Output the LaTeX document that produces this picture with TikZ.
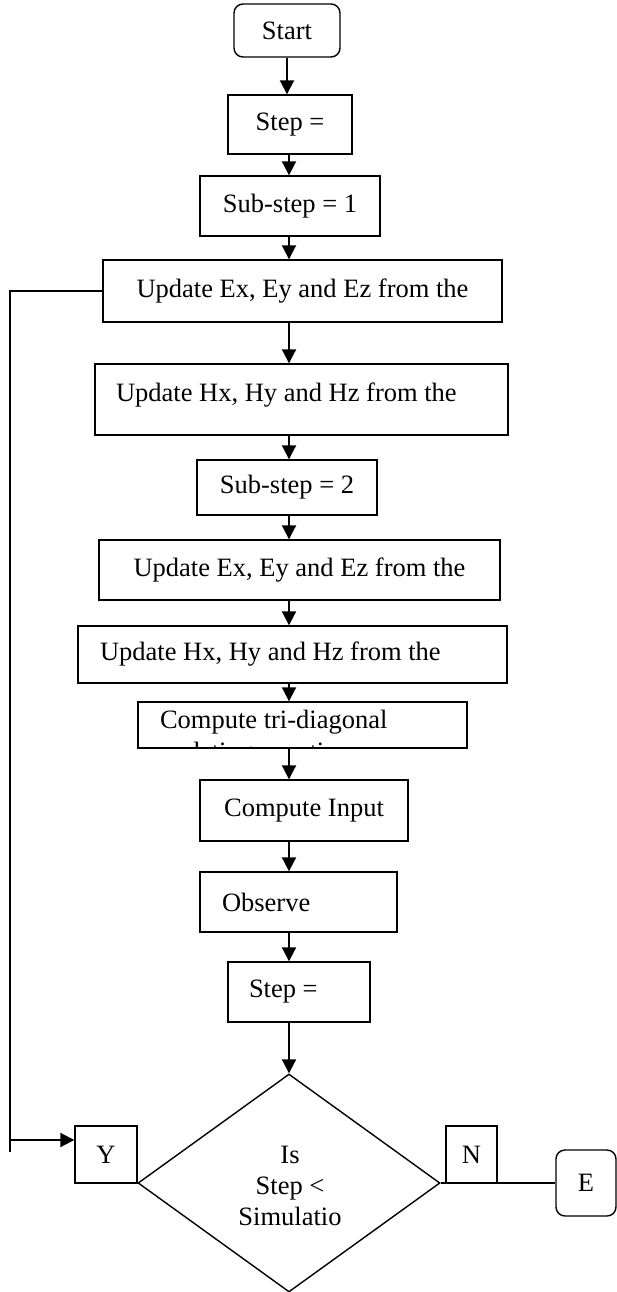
\documentclass[tikz,border=0pt]{standalone}
\usepackage{fontspec}
\setmainfont{Liberation Serif}
\usetikzlibrary{arrows.meta,shapes.geometric}

\tikzset{
  box/.style={draw, line width=1.4pt, inner sep=0pt, font=\fontsize{26.5}{31}\selectfont},
  rbox/.style={box, rounded corners=9pt},
  txt/.style={inner sep=0pt, font=\fontsize{26.5}{31}\selectfont},
  flow/.style={line width=2pt, -{Triangle[length=14pt,width=14pt]}},
  link/.style={line width=1.4pt},
}

\begin{document}
\begin{tikzpicture}[x=1pt,y=-1pt]
			\useasboundingbox (0,0) rectangle (617,1292);
			\coordinate (axis) at (289,0);

			%%%%% BOXES %%%%%
			\node[rbox, minimum width=106pt, minimum height=53pt] (start) at (287,30.5) {Start};
			\node[box, minimum width=124pt, minimum height=59pt] (step1) at (290,124.5) {Step =};
			\node[box, minimum width=180pt, minimum height=60pt] (sub1) at (290,206) {Sub-step = 1};
			\node[box, minimum width=399pt, minimum height=62pt] (updE1) at (302.5,291) {Update Ex, Ey and Ez from the};
			\node[box, minimum width=413pt, minimum height=71pt, text width=371pt, inner xsep=21pt, align=flush left,
			      text height=18.5pt, text depth=14.1pt] (updH1) at (301.5,399.5) {Update Hx, Hy and Hz from the};
			\node[box, minimum width=180pt, minimum height=55pt] (sub2) at (287,487.5) {Sub-step = 2};
			\node[box, minimum width=401pt, minimum height=60pt] (updE2) at (299.5,570) {Update Ex, Ey and Ez from the};
			\node[box, minimum width=429pt, minimum height=57pt, text width=385pt, inner xsep=22pt, align=flush left] (updH2) at (292.5,654.5) {Update Hx, Hy and Hz from the};
			\node[box, minimum width=329pt, minimum height=46pt, text width=285pt, inner xsep=22pt, align=flush left,
			      text height=18.5pt, text depth=11.1pt] (tri) at (302.5,725) {Compute tri-diagonal};
			\begin{scope}
				\clip (tri.south west) rectangle (tri.north east);
				\node[txt, anchor=base west] (tri2) at (160,760) {updating equation};
			\end{scope}
			\node[box, minimum width=208pt, minimum height=61pt] (compIn) at (304,810.5) {Compute Input};
			\node[box, minimum width=197pt, minimum height=60pt, text width=153pt, inner xsep=22pt, align=flush left] (observe) at (298.5,902) {Observe};
			\node[box, minimum width=142pt, minimum height=60pt, text width=100pt, inner xsep=21pt, align=flush left] (step2) at (299,992) {Step =};

			%%%%% DECISION %%%%%
			\node[draw, diamond, line width=1.4pt, inner sep=0pt, minimum width=302pt, minimum height=218pt] (dec) at (289,1183) {};
			\node[txt, align=center] (decText) at (290,1186) {Is\\Step <\\Simulatio};
			\node[box, minimum width=62pt, minimum height=57pt] (yes) at (106,1154.5) {Y};
			\node[box, minimum width=51pt, minimum height=57pt] (no) at (471.5,1154.5) {N};
			\node[rbox, minimum width=60pt, minimum height=66pt] (stop) at (586,1183) {E};

			%%%%% ARROWS %%%%%
			\draw[flow] (start) -- (start |- step1.north);
			\draw[flow] (axis |- step1.south) -- (axis |- sub1.north);
			\draw[flow] (axis |- sub1.south) -- (axis |- updE1.north);
			\draw[flow] (axis |- updE1.south) -- (axis |- updH1.north);
			\draw[flow] (axis |- updH1.south) -- (axis |- sub2.north);
			\draw[flow] (axis |- sub2.south) -- (axis |- updE2.north);
			\draw[flow] (axis |- updE2.south) -- (axis |- updH2.north);
			\draw[flow] (axis |- updH2.south) -- (axis |- tri.north);
			\draw[flow] (axis |- tri.south) -- (axis |- compIn.north);
			\draw[flow] (axis |- compIn.south) -- (axis |- observe.north);
			\draw[flow] (axis |- observe.south) -- (axis |- step2.north);
			\draw[flow] (axis |- step2.south) -- (dec.north);

			%%%%% LOOP BACK %%%%%
			\coordinate (loopTop) at (10,291);
			\coordinate (loopBot) at (10,1152);
			\coordinate (loopIn) at (10,1140);
			\draw[link] (updE1.west) -- (loopTop) -- (loopBot);
			\draw[flow] (loopIn) -- (loopIn -| yes.west);

			\draw[link] (dec.east) -- (stop.west);
		\end{tikzpicture}
\end{document}
